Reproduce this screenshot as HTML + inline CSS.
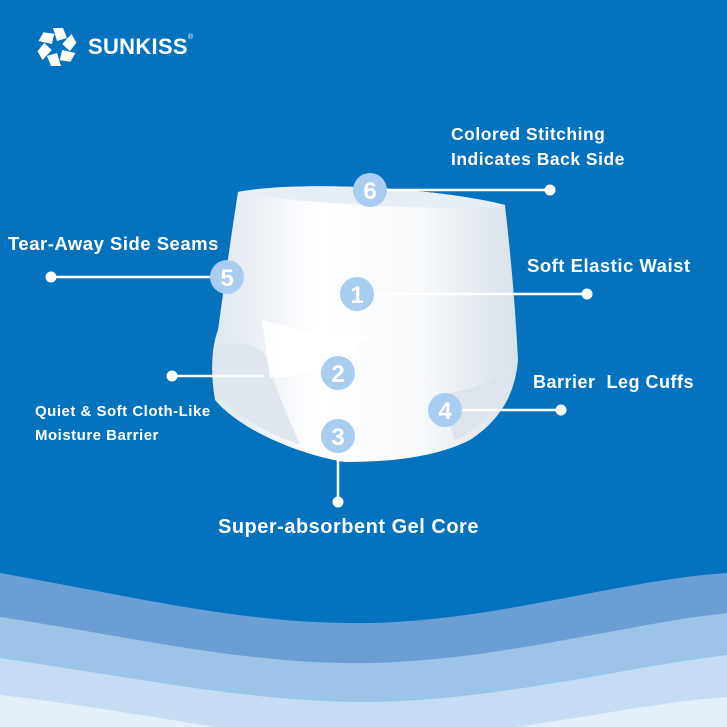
<!DOCTYPE html>
<html><head><meta charset="utf-8"><style>
html,body{margin:0;padding:0}
body{width:727px;height:727px;overflow:hidden;background:#0472bd;position:relative;font-family:"Liberation Sans","DejaVu Sans",sans-serif}
.t{position:absolute;color:#fff;font-weight:bold;white-space:nowrap;letter-spacing:0.5px}
svg{position:absolute;left:0;top:0}
</style></head><body>
<svg width="727" height="727" viewBox="0 0 727 727">
<defs>
<linearGradient id="pg" x1="0" y1="0" x2="1" y2="0">
<stop offset="0" stop-color="#dfe7ef"/><stop offset="0.35" stop-color="#ffffff"/><stop offset="0.7" stop-color="#f6f8fa"/><stop offset="1" stop-color="#d9e1ea"/></linearGradient>
</defs>
<path d="M0 573 C150 600 250 625 371 623 C500 620 620 580 727 573 L727 727 L0 727Z" fill="#6a9fd6"/>
<path d="M0 617 C150 640 250 665 371 663 C500 660 620 625 727 613 L727 727 L0 727Z" fill="#9cc4e8"/>
<path d="M0 658 C150 680 250 702 371 702 C500 700 620 668 727 655 L727 727 L0 727Z" fill="#c5dcf2"/>
<path d="M0 695 C150 712 250 740 371 740 C500 738 620 705 727 697 L727 727 L0 727Z" fill="#e4eff9"/>
<!-- pants -->
<path d="M238 192 C300 180 440 188 505 205 C510 250 515 300 518 360 C515 395 500 420 470 440 C440 455 400 462 345 462 C300 455 240 430 215 400 C210 370 212 345 218 330 C225 280 232 230 238 192Z" fill="url(#pg)"/>
<path d="M238 192 C300 180 440 188 505 205 C470 212 300 205 238 192Z" fill="#e8eef5"/>
<path d="M215 345 C240 340 262 345 268 360 C275 390 290 420 300 445 C260 430 228 410 215 390Z" fill="#e1e7ee"/>
<path d="M262 320 C300 330 340 340 370 335 C340 360 300 380 270 378 Z" fill="#fff" opacity="0.9"/>
<path d="M440 395 C470 390 500 380 515 365 C505 400 480 430 455 440Z" fill="#dde4ec"/>
<!-- lines -->
<g stroke="#fff" stroke-width="2.5" fill="none">
<line x1="370" y1="190" x2="550" y2="190"/>
<line x1="51" y1="277" x2="227" y2="277"/>
<line x1="357" y1="294" x2="587" y2="294"/>
<line x1="172" y1="376" x2="264" y2="376"/>
<line x1="445" y1="410" x2="561" y2="410"/>
<line x1="338" y1="436" x2="338" y2="502"/>
</g>
<g fill="#fff">
<circle cx="550" cy="190" r="5.5"/><circle cx="51" cy="277" r="5.5"/><circle cx="587" cy="294" r="5.5"/>
<circle cx="172" cy="376" r="5.5"/><circle cx="561" cy="410" r="5.5"/><circle cx="338" cy="502" r="5.5"/>
</g>
<g fill="#a9cdf0">
<circle cx="370" cy="190" r="17"/><circle cx="227" cy="277" r="17"/><circle cx="357" cy="294" r="17"/>
<circle cx="338" cy="373" r="17"/><circle cx="338" cy="436" r="17"/><circle cx="445" cy="410" r="17"/>
</g>
<g fill="#fff" font-family="Liberation Sans, sans-serif" font-weight="bold" font-size="24" text-anchor="middle">
<text x="370" y="199">6</text><text x="227" y="286">5</text><text x="357" y="303">1</text>
<text x="338" y="382">2</text><text x="338" y="445">3</text><text x="445" y="419">4</text>
</g>
<!-- logo star -->
<g transform="translate(57,47)" fill="#fff">
<g id="p"><path d="M-4 -19 L6 -19 L10 -9 L0 -6Z"/></g>
<use href="#p" transform="rotate(60)"/><use href="#p" transform="rotate(120)"/>
<use href="#p" transform="rotate(180)"/><use href="#p" transform="rotate(240)"/><use href="#p" transform="rotate(300)"/>
</g>
</svg>
<div class="t" style="left:88px;top:34px;font-size:22px;font-weight:900;letter-spacing:0.3px">SUNKISS<sup style="font-size:7px;font-weight:normal;vertical-align:top">®</sup></div>
<div class="t" style="left:451px;top:122px;font-size:17.5px;line-height:25px">Colored Stitching<br>Indicates Back Side</div>
<div class="t" style="left:8px;top:233px;font-size:18.5px">Tear-Away Side Seams</div>
<div class="t" style="left:527px;top:255px;font-size:18.5px">Soft Elastic Waist</div>
<div class="t" style="left:533px;top:372px;font-size:18px">Barrier&nbsp; Leg Cuffs</div>
<div class="t" style="left:35px;top:400px;font-size:15px;line-height:24px">Quiet &amp; Soft Cloth-Like<br>Moisture Barrier</div>
<div class="t" style="left:218px;top:516px;font-size:20px">Super-absorbent Gel Core</div>
</body></html>
